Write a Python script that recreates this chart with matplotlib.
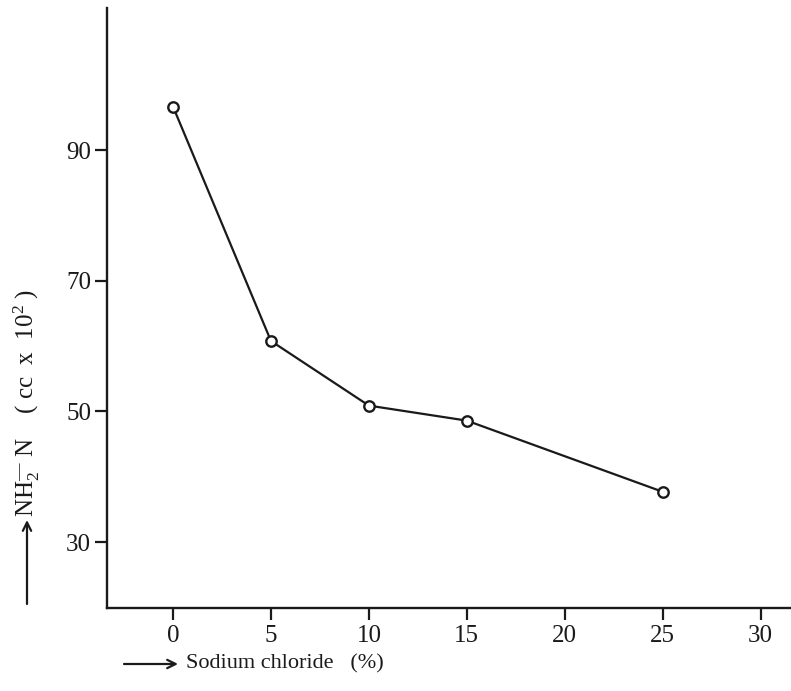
import matplotlib
matplotlib.use("Agg")
import matplotlib.pyplot as plt

# 食盐浓度 (%) 与氨基氮含量 (cc x 10^2)
salt = [0, 5, 10, 15, 25]
nh2_n = [96.7, 60.8, 50.9, 48.6, 37.7]

x_ticks = [0, 5, 10, 15, 20, 25, 30]
y_ticks = [30, 50, 70, 90]

plt.rcParams['font.family'] = ['Liberation Serif', 'DejaVu Serif', 'DejaVu Sans']
plt.rcParams['mathtext.fontset'] = 'custom'
plt.rcParams['mathtext.rm'] = 'Liberation Serif'
plt.rcParams['mathtext.it'] = 'Liberation Serif:italic'

ink = '#1a1a1a'
W, H = 791, 691

fig = plt.figure(figsize=(W / 100, H / 100), dpi=100)
ax = fig.add_axes([107 / W, (H - 608) / H, 683 / W, 600 / H])

ax.plot(salt, nh2_n, color=ink, linewidth=1.6, marker='o',
        markersize=7.5, markerfacecolor='white', markeredgecolor=ink,
        markeredgewidth=1.7, zorder=3)

ax.set_xlim(-3.37, 31.5)
ax.set_ylim(19.9, 111.8)
ax.set_xticks(x_ticks)
ax.set_yticks(y_ticks)

for side in ['top', 'right']:
    ax.spines[side].set_visible(False)
for side in ['left', 'bottom']:
    ax.spines[side].set_linewidth(1.7)
    ax.spines[side].set_color(ink)

ax.tick_params(axis='both', direction='out', length=8.5, width=1.6,
               colors=ink, labelsize=18)
ax.tick_params(axis='x', pad=4)
ax.tick_params(axis='y', pad=3)

# 坐标轴标题（箭头单独画）
fig.text(27 / W, (H - 517) / H,
         r'NH$_2^{\mathrm{—}}$ N    ( cc  x  10$^2$ )',
         rotation=90, ha='center', va='bottom', fontsize=18, color=ink)
ax.annotate('', xy=(27, H - 520), xytext=(27, H - 604), xycoords='figure pixels',
            textcoords='figure pixels',
            arrowprops=dict(arrowstyle='->,head_length=0.6,head_width=0.3',
                            lw=1.6, color=ink, shrinkA=0, shrinkB=0))

fig.text(186 / W, (H - 664) / H, 'Sodium chloride   (%)',
         ha='left', va='center', fontsize=16, color=ink)
ax.annotate('', xy=(178, H - 664), xytext=(124, H - 664), xycoords='figure pixels',
            textcoords='figure pixels',
            arrowprops=dict(arrowstyle='->,head_length=0.6,head_width=0.3',
                            lw=1.6, color=ink, shrinkA=0, shrinkB=0))

fig.savefig('out.png', dpi=100)
